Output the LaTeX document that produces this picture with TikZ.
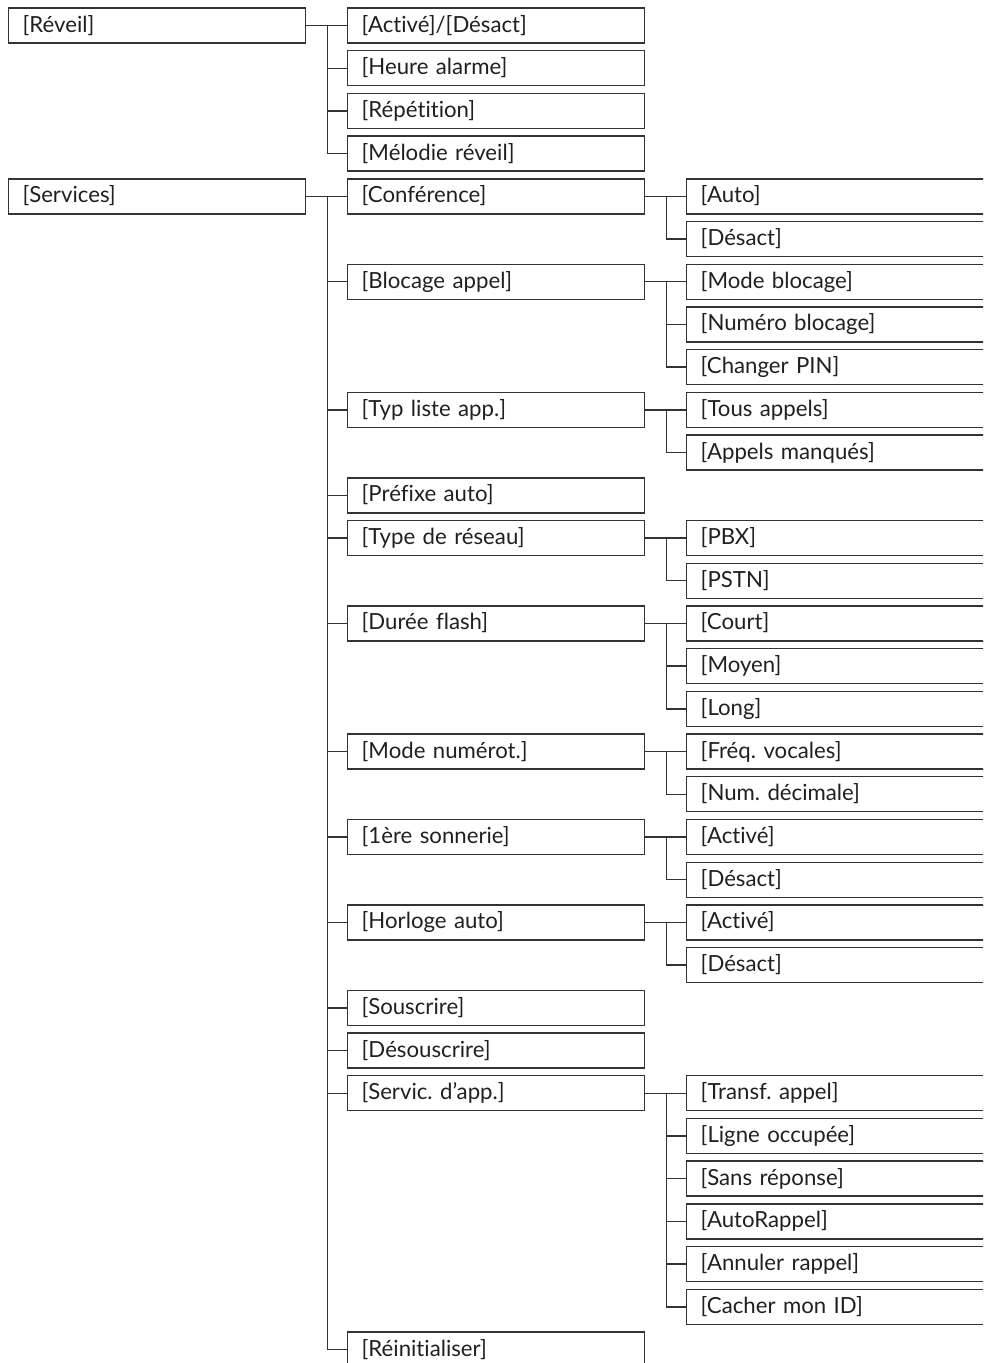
\documentclass[tikz,border=0pt]{standalone}
\usepackage{fontspec}
\setmainfont{Lato}[Ligatures={ResetAll,NoCommon}]
\frenchspacing
\usetikzlibrary{calc}
\definecolor{ln}{HTML}{333333}
\definecolor{tx}{HTML}{231F20}
\newcommand{\rowy}[1]{{25.5+42.71*(#1)}}
\begin{document}
\begin{tikzpicture}[x=1pt,y=-1pt,
  box/.style={draw=ln, line width=1.4pt, rectangle, anchor=west, minimum height=35pt,
    text width=269pt, inner xsep=14pt, inner ysep=0pt, align=left,
    font=\fontsize{22.2}{26}\selectfont, text=tx, text height=18pt, text depth=5pt},
  wbox/.style={box, text width=290pt},
  conn/.style={draw=ln, line width=1.4pt}]
\useasboundingbox (0,0) rectangle (983,1363);
\clip (0,0) rectangle (983,1363);
% column 1
\node[box] (reveil) at (8,\rowy{0}) {[Réveil]};
\node[box] (services) at (8,\rowy{4}) {[Services]};
% column 2
\node[box] (b0) at (347,\rowy{0}) {[Activé]/[Désact]};
\node[box] (b1) at (347,\rowy{1}) {[Heure alarme]};
\node[box] (b2) at (347,\rowy{2}) {[Répétition]};
\node[box] (b3) at (347,\rowy{3}) {[Mélodie réveil]};
\node[box] (b4) at (347,\rowy{4}) {[Conférence]};
\node[box] (b6) at (347,\rowy{6}) {[Blocage appel]};
\node[box] (b9) at (347,\rowy{9}) {[Typ liste app.]};
\node[box] (b11) at (347,\rowy{11}) {[Préfixe auto]};
\node[box] (b12) at (347,\rowy{12}) {[Type de réseau]};
\node[box] (b14) at (347,\rowy{14}) {[Durée flash]};
\node[box] (b17) at (347,\rowy{17}) {[Mode numérot.]};
\node[box] (b19) at (347,\rowy{19}) {[1ère sonnerie]};
\node[box] (b21) at (347,\rowy{21}) {[Horloge auto]};
\node[box] (b23) at (347,\rowy{23}) {[Souscrire]};
\node[box] (b24) at (347,\rowy{24}) {[Désouscrire]};
\node[box] (b25) at (347,\rowy{25}) {[Servic. d'app.]};
\node[box] (b31) at (347,\rowy{31}) {[Réinitialiser]};
% column 3
\node[wbox] (c4) at (686,\rowy{4}) {[Auto]};
\node[wbox] (c5) at (686,\rowy{5}) {[Désact]};
\node[wbox] (c6) at (686,\rowy{6}) {[Mode blocage]};
\node[wbox] (c7) at (686,\rowy{7}) {[Numéro blocage]};
\node[wbox] (c8) at (686,\rowy{8}) {[Changer PIN]};
\node[wbox] (c9) at (686,\rowy{9}) {[Tous appels]};
\node[wbox] (c10) at (686,\rowy{10}) {[Appels manqués]};
\node[wbox] (c12) at (686,\rowy{12}) {[PBX]};
\node[wbox] (c13) at (686,\rowy{13}) {[PSTN]};
\node[wbox] (c14) at (686,\rowy{14}) {[Court]};
\node[wbox] (c15) at (686,\rowy{15}) {[Moyen]};
\node[wbox] (c16) at (686,\rowy{16}) {[Long]};
\node[wbox] (c17) at (686,\rowy{17}) {[Fréq. vocales]};
\node[wbox] (c18) at (686,\rowy{18}) {[Num. décimale]};
\node[wbox] (c19) at (686,\rowy{19}) {[Activé]};
\node[wbox] (c20) at (686,\rowy{20}) {[Désact]};
\node[wbox] (c21) at (686,\rowy{21}) {[Activé]};
\node[wbox] (c22) at (686,\rowy{22}) {[Désact]};
\node[wbox] (c25) at (686,\rowy{25}) {[Transf. appel]};
\node[wbox] (c26) at (686,\rowy{26}) {[Ligne occupée]};
\node[wbox] (c27) at (686,\rowy{27}) {[Sans réponse]};
\node[wbox] (c28) at (686,\rowy{28}) {[AutoRappel]};
\node[wbox] (c29) at (686,\rowy{29}) {[Annuler rappel]};
\node[wbox] (c30) at (686,\rowy{30}) {[Cacher mon ID]};
% connectors
\newcommand{\tree}[2]{%
  \coordinate (#1-t) at ($(#1.east)+(21,0)$);
  \draw[conn] (#1.east) -- (#1-t);
  \foreach \ch in {#2} {\draw[conn] (#1-t) |- (\ch.west);}
}
\tree{reveil}{b0,b1,b2,b3}
\tree{services}{b4,b6,b9,b11,b12,b14,b17,b19,b21,b23,b24,b25,b31}
\tree{b4}{c4,c5}
\tree{b6}{c6,c7,c8}
\tree{b9}{c9,c10}
\tree{b12}{c12,c13}
\tree{b14}{c14,c15,c16}
\tree{b17}{c17,c18}
\tree{b19}{c19,c20}
\tree{b21}{c21,c22}
\tree{b25}{c25,c26,c27,c28,c29,c30}
\end{tikzpicture}
\end{document}
